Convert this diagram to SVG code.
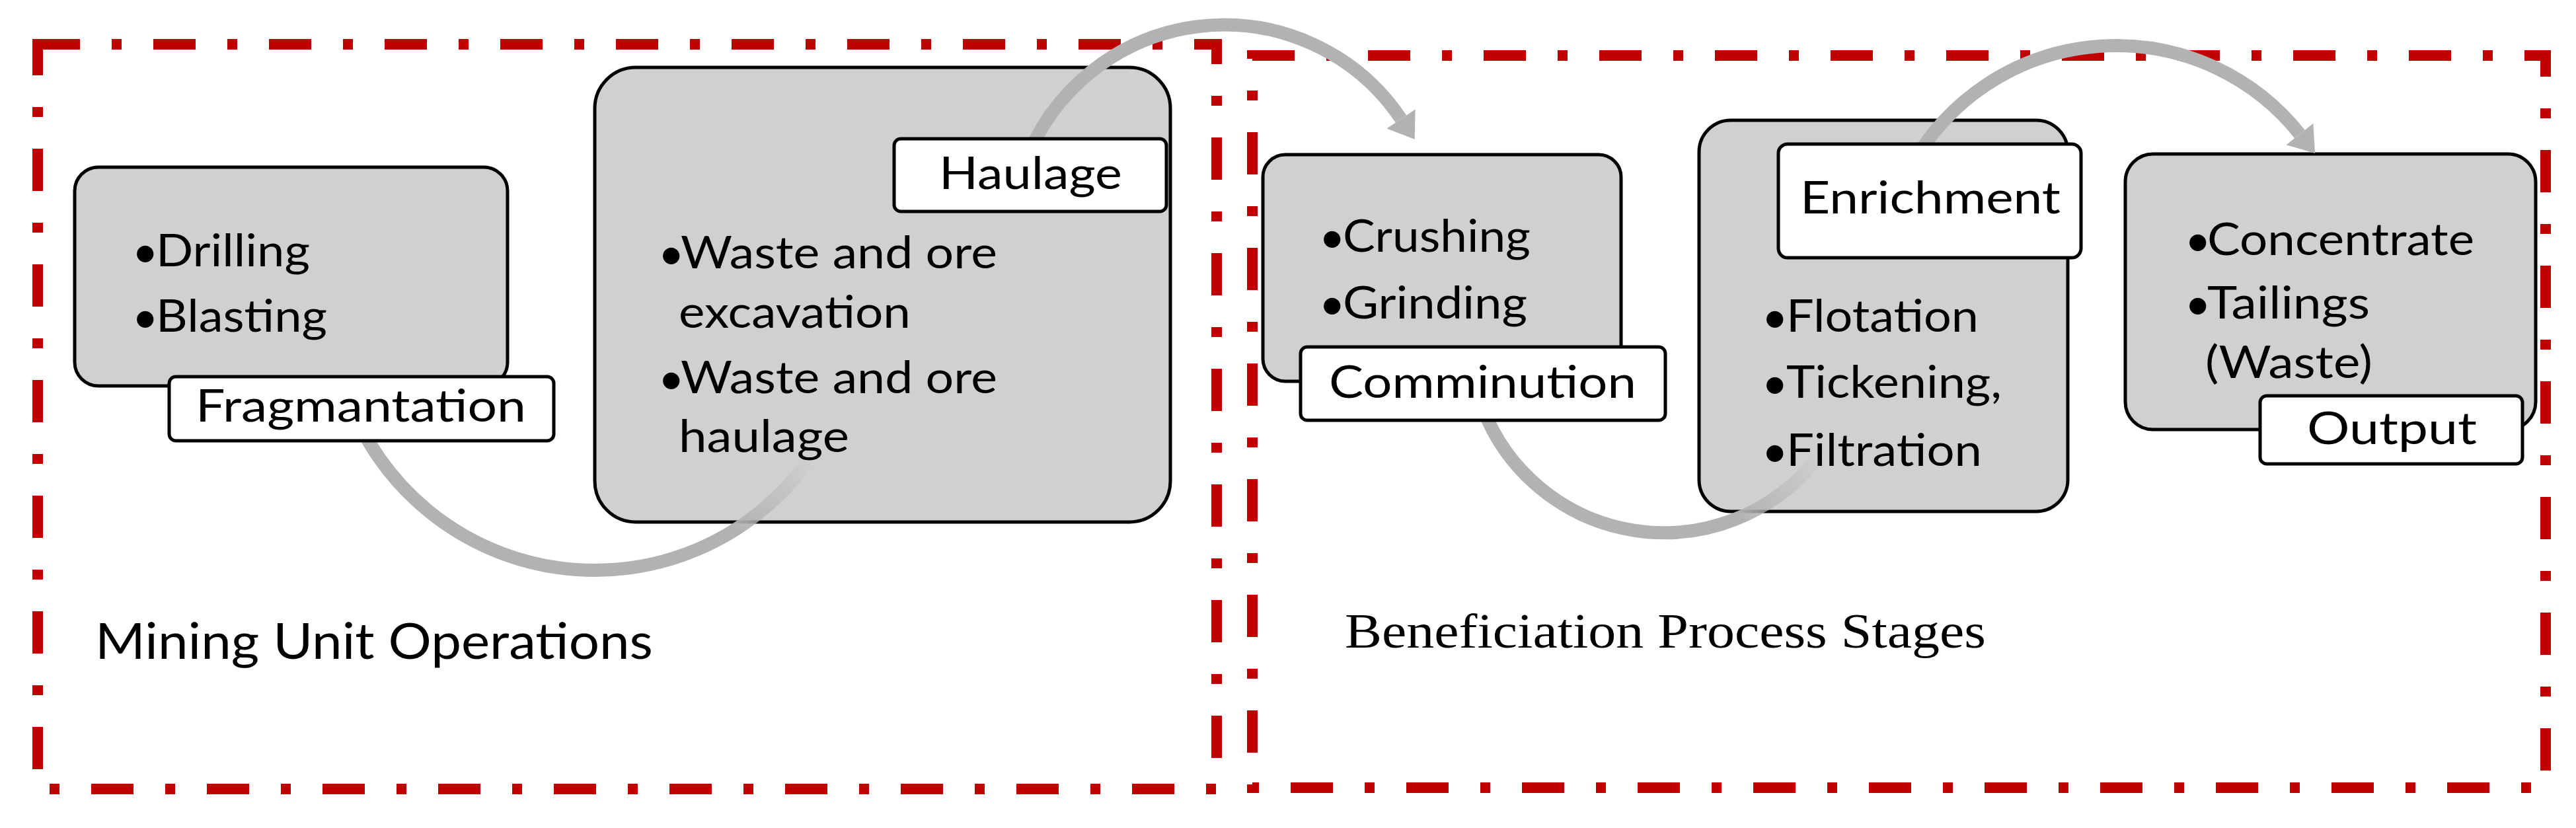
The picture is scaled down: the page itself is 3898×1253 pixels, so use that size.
<svg xmlns="http://www.w3.org/2000/svg" width="3898" height="1253" viewBox="0 0 3898 1253">
  <style>
    .frame { fill: none; stroke: #C00000; stroke-width: 16; stroke-dasharray: 64 48 15 48; }
    .box { fill: #D0D0D0; stroke: #000; stroke-width: 5; }
    .label { fill: #FFFFFF; stroke: #000; stroke-width: 5; }
    .t { font-family: Lato, "Open Sans", "Liberation Sans", sans-serif; font-size: 68px; fill: #000; }
    .title { font-family: Lato, "Liberation Sans", sans-serif; font-size: 76px; fill: #000; }
    .serif { font-family: "Liberation Serif", "DejaVu Serif", serif; font-size: 74px; fill: #000; }
    .arc { fill: none; stroke: #B2B2B2; stroke-width: 20; }
  </style>
  <defs>
    <marker id="arrowhead" markerUnits="userSpaceOnUse" markerWidth="40" markerHeight="52" viewBox="0 0 40 52" refX="0" refY="26" orient="auto" overflow="visible">
      <path d="M0,0 L37,26 L0,52 Z" fill="#B2B2B2"/>
    </marker>
    <linearGradient id="fade1" gradientUnits="userSpaceOnUse" x1="1120" y1="805" x2="1228" y2="695">
      <stop offset="0" stop-color="#B2B2B2" stop-opacity="1"/>
      <stop offset="1" stop-color="#B2B2B2" stop-opacity="0"/>
    </linearGradient>
    <linearGradient id="fade2" gradientUnits="userSpaceOnUse" x1="2640" y1="790" x2="2755" y2="688">
      <stop offset="0" stop-color="#B2B2B2" stop-opacity="1"/>
      <stop offset="1" stop-color="#B2B2B2" stop-opacity="0"/>
    </linearGradient>
  </defs>
  <rect width="3898" height="1253" fill="#FFFFFF"/>

  <g id="mining-unit-operations">
    <rect class="frame" x="57" y="67" width="1784" height="1127"/>
    <text class="title" x="144" y="997" textLength="844" lengthAdjust="spacingAndGlyphs">Mining Unit Operations</text>
  </g>
  <g id="beneficiation-process-stages">
    <rect class="frame" x="1895" y="84" width="1957" height="1108"/>
    <text class="serif" x="2035" y="980" textLength="970" lengthAdjust="spacingAndGlyphs">Beneficiation Process Stages</text>
  </g>

  <g id="node-fragmentation">
    <rect class="box" x="113" y="253" width="655" height="331" rx="36"/>
    <text class="t"><tspan x="200" y="405">•</tspan><tspan x="236" y="403" textLength="233" lengthAdjust="spacingAndGlyphs">Drilling</tspan></text>
    <text class="t"><tspan x="200" y="504">•</tspan><tspan x="236" y="502" textLength="259" lengthAdjust="spacingAndGlyphs">Blasting</tspan></text>
  </g>
  <g id="node-haulage">
    <rect class="box" x="900" y="102" width="871" height="688" rx="62"/>
    <text class="t"><tspan x="996" y="408">•</tspan><tspan x="1030" y="406" textLength="479" lengthAdjust="spacingAndGlyphs">Waste and ore</tspan></text>
    <text class="t" x="1027" y="496" textLength="351" lengthAdjust="spacingAndGlyphs">excavation</text>
    <text class="t"><tspan x="996" y="597">•</tspan><tspan x="1030" y="595" textLength="479" lengthAdjust="spacingAndGlyphs">Waste and ore</tspan></text>
    <text class="t" x="1027" y="684" textLength="258" lengthAdjust="spacingAndGlyphs">haulage</text>
  </g>
  <g id="node-comminution">
    <rect class="box" x="1911" y="234" width="542" height="343" rx="34"/>
    <text class="t"><tspan x="1996" y="383">•</tspan><tspan x="2032" y="381" textLength="284" lengthAdjust="spacingAndGlyphs">Crushing</tspan></text>
    <text class="t"><tspan x="1996" y="484">•</tspan><tspan x="2032" y="482" textLength="279" lengthAdjust="spacingAndGlyphs">Grinding</tspan></text>
  </g>
  <g id="node-enrichment">
    <rect class="box" x="2571" y="182" width="558" height="592" rx="48"/>
    <text class="t"><tspan x="2666" y="504">•</tspan><tspan x="2703" y="502" textLength="291" lengthAdjust="spacingAndGlyphs">Flotation</tspan></text>
    <text class="t"><tspan x="2666" y="604">•</tspan><tspan x="2703" y="602" textLength="326" lengthAdjust="spacingAndGlyphs">Tickening,</tspan></text>
    <text class="t"><tspan x="2666" y="707">•</tspan><tspan x="2703" y="705" textLength="296" lengthAdjust="spacingAndGlyphs">Filtration</tspan></text>
  </g>
  <g id="node-output">
    <rect class="box" x="3216" y="233" width="621" height="417" rx="42"/>
    <text class="t"><tspan x="3306" y="388">•</tspan><tspan x="3340" y="386" textLength="404" lengthAdjust="spacingAndGlyphs">Concentrate</tspan></text>
    <text class="t"><tspan x="3306" y="484">•</tspan><tspan x="3340" y="482" textLength="246" lengthAdjust="spacingAndGlyphs">Tailings</tspan></text>
    <text class="t" x="3337" y="572" textLength="253" lengthAdjust="spacingAndGlyphs">(Waste)</text>
  </g>

  <g id="connectors">
    <path id="arc-fragmentation-haulage" d="M 526 601 A 398 398 0 0 0 1222 699" fill="none" stroke="url(#fade1)" stroke-width="20"/>
    <path id="arc-haulage-comminution" class="arc" d="M 1550 250 A 322 322 0 0 1 2120 180" marker-end="url(#arrowhead)"/>
    <path id="arc-comminution-enrichment" d="M 2242 613 A 294 294 0 0 0 2750 693" fill="none" stroke="url(#fade2)" stroke-width="20"/>
    <path id="arc-enrichment-output" class="arc" d="M 2895 246 A 355 355 0 0 1 3480 203" marker-end="url(#arrowhead)"/>
  </g>

  <g id="label-fragmantation">
    <rect class="label" x="256" y="570" width="582" height="97" rx="10"/>
    <text class="t" x="296" y="638" textLength="500" lengthAdjust="spacingAndGlyphs">Fragmantation</text>
  </g>
  <g id="label-haulage">
    <rect class="label" x="1353" y="210" width="412" height="110" rx="10"/>
    <text class="t" x="1421" y="286" textLength="277" lengthAdjust="spacingAndGlyphs">Haulage</text>
  </g>
  <g id="label-comminution">
    <rect class="label" x="1968" y="525" width="552" height="111" rx="10"/>
    <text class="t" x="2011" y="602" textLength="465" lengthAdjust="spacingAndGlyphs">Comminution</text>
  </g>
  <g id="label-enrichment">
    <rect class="label" x="2691" y="218" width="458" height="172" rx="14"/>
    <text class="t" x="2724" y="323" textLength="394" lengthAdjust="spacingAndGlyphs">Enrichment</text>
  </g>
  <g id="label-output">
    <rect class="label" x="3420" y="599" width="397" height="103" rx="10"/>
    <text class="t" x="3491" y="672" textLength="257" lengthAdjust="spacingAndGlyphs">Output</text>
  </g>
</svg>
